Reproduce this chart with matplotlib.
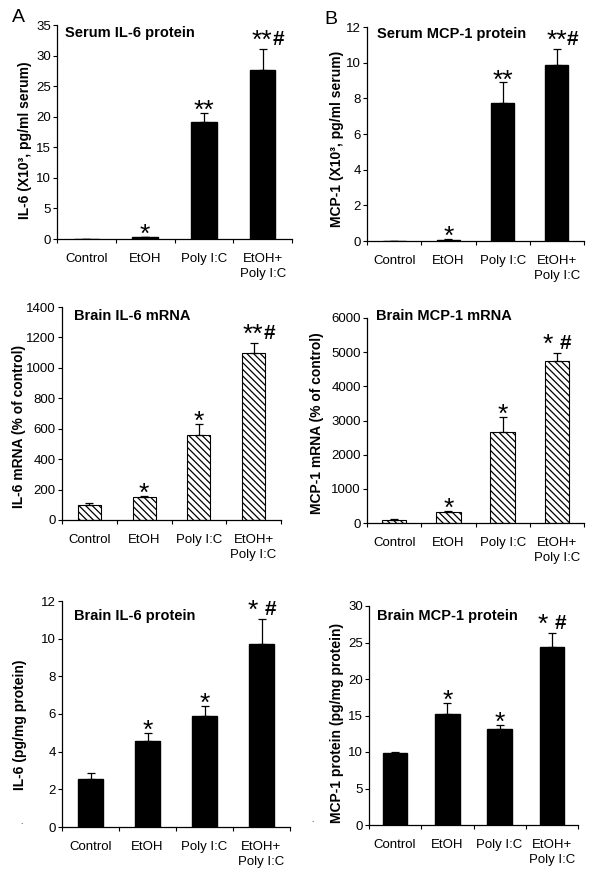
import numpy as np
import matplotlib
matplotlib.use('Agg')
import matplotlib.pyplot as plt

plt.rcParams['font.family'] = ['Liberation Sans', 'DejaVu Sans']
plt.rcParams['hatch.linewidth'] = 0.9

W, H = 600, 886

categories = ['Control', 'EtOH', 'Poly I:C', 'EtOH+\nPoly I:C']

serum_il6 = [0.05, 0.3, 19.2, 27.7]
serum_il6_err = [0.0, 0.05, 1.45, 3.45]
serum_mcp1 = [0.02, 0.08, 7.75, 9.87]
serum_mcp1_err = [0.0, 0.02, 1.14, 0.88]
brain_il6_mrna = [100, 153, 559, 1100]
brain_il6_mrna_err = [14, 7, 70, 64]
brain_mcp1_mrna = [100, 330, 2670, 4750]
brain_mcp1_mrna_err = [10, 20, 440, 235]
brain_il6_prot = [2.55, 4.58, 5.89, 9.72]
brain_il6_prot_err = [0.3, 0.42, 0.53, 1.31]
brain_mcp1_prot = [9.85, 15.2, 13.1, 24.4]
brain_mcp1_prot_err = [0.12, 1.55, 0.6, 1.95]

sig_serum = ['', '*', '**', '**#']
sig_il6_mrna = ['', '*', '*', '**#']
sig_other = ['', '*', '*', '* #']


def frac(x, y):
    return x / W, 1 - y / H


def rect(l, t, r, b):
    return [l / W, 1 - b / H, (r - l) / W, (b - t) / H]


def mark(ax, x, top, label):
    if not label:
        return
    kw = dict(textcoords='offset pixels', va='baseline')
    if '#' in label:
        stars = label.replace('#', '').strip()
        spaced = ' ' in label
        # stars end where the '#' begins (or a small gap before it)
        s_end, h_start = (-4, 3) if spaced else (10, 10)
        ax.annotate(stars, (x, top), xytext=(s_end, 1), ha='right',
                    fontsize=19, **kw)
        ax.annotate('#', (x, top), xytext=(h_start, 4), ha='left',
                    fontsize=15, weight='bold', **kw)
    else:
        ax.annotate(label, (x, top), xytext=(0, -5), ha='center',
                    fontsize=19, **kw)


def panel(box, vals, errs, sig, ymax, ystep, width, hatched=False):
    ax = fig.add_axes(rect(*box))
    x = np.arange(len(categories))
    if hatched:
        ax.bar(x, vals, width, color='white', edgecolor='black',
               hatch='\\\\\\\\\\', linewidth=0.8)
    else:
        ax.bar(x, vals, width, color='black', edgecolor='black')
    ax.errorbar(x, vals, yerr=[np.zeros(len(errs)), errs], fmt='none',
                ecolor='black', elinewidth=0.9, capsize=3, capthick=0.9)
    tops = np.array(vals) + np.array(errs)
    for xi, t, s in zip(x, tops, sig):
        mark(ax, xi, t, s)
    ax.set_xlim(-0.5, len(categories) - 0.5)
    ax.set_ylim(0, ymax)
    ax.set_yticks(np.arange(0, ymax + ystep / 2, ystep))
    ax.set_xticks(np.arange(-0.5, len(categories), 1.0))
    ax.set_xticklabels([])
    ax.set_xticks(x, minor=True)
    ax.set_xticklabels(categories, minor=True, linespacing=1.4)
    ax.tick_params(axis='x', which='major', length=3, width=0.8, direction='out')
    ax.tick_params(axis='x', which='minor', length=0, pad=10, labelsize=9.5)
    ax.tick_params(axis='y', length=3, width=0.8, pad=1.5, labelsize=9.5)
    for s in ['top', 'right']:
        ax.spines[s].set_visible(False)
    for s in ['left', 'bottom']:
        ax.spines[s].set_linewidth(0.9)
    return ax


fig = plt.figure(figsize=(W / 100, H / 100), dpi=100)

panel((57, 25, 292, 239), serum_il6, serum_il6_err, sig_serum, 35, 5, 0.43)
panel((367, 27, 584, 241), serum_mcp1, serum_mcp1_err, sig_serum, 12, 2, 0.42)
panel((62, 307, 281, 520), brain_il6_mrna, brain_il6_mrna_err, sig_il6_mrna,
      1400, 200, 0.42, hatched=True)
panel((367, 318, 584, 523), brain_mcp1_mrna, brain_mcp1_mrna_err, sig_other,
      6000, 1000, 0.45, hatched=True)
panel((62, 601, 290, 827), brain_il6_prot, brain_il6_prot_err, sig_other,
      12, 2, 0.43)
panel((369, 606, 578, 825), brain_mcp1_prot, brain_mcp1_prot_err, sig_other,
      30, 5, 0.47)

titles = [('Serum IL-6 protein', 65, 33), ('Serum MCP-1 protein', 377, 34),
          ('Brain IL-6 mRNA', 74, 316), ('Brain MCP-1 mRNA', 376, 316),
          ('Brain IL-6 protein', 74, 616), ('Brain MCP-1 protein', 377, 616)]
for t, x, y in titles:
    fig.text(*frac(x, y), t, ha='left', va='center', fontsize=10.5,
             weight='bold')

ylabels = [('IL-6 (X10³, pg/ml serum)', 25, 140),
           ('MCP-1 (X10³, pg/ml serum)', 337.5, 138.5),
           ('IL-6 mRNA (% of control)', 19, 426),
           ('MCP-1 mRNA (% of control)', 317.5, 423.5),
           ('IL-6 (pg/mg protein)', 20, 725),
           ('MCP-1 protein (pg/mg protein)', 337, 722.5)]
for t, x, y in ylabels:
    fig.text(*frac(x, y), t, ha='center', va='center', rotation=90,
             fontsize=10, weight='bold')

fig.text(*frac(18, 18), 'A', ha='center', va='center', fontsize=14)
fig.text(*frac(331, 19), 'B', ha='center', va='center', fontsize=14)
fig.text(*frac(21, 826), '.', ha='center', va='bottom', fontsize=6)
fig.text(*frac(312, 824), '.', ha='center', va='bottom', fontsize=6)

fig.savefig('out.png', dpi=100)
